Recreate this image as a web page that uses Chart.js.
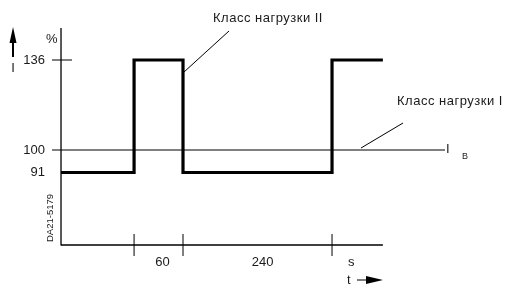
<!DOCTYPE html>
<html>
<head>
<meta charset="utf-8">
<script src="https://cdn.jsdelivr.net/npm/chart.js@4"></script>
<style>
  html, body { margin: 0; padding: 0; background: #fff; }
  #wrap { width: 509px; height: 286px; }
</style>
</head>
<body>
<div id="wrap"><canvas id="loadChart" width="509" height="286"></canvas></div>
<script>
// Load profile: time in schematic units (axis runs 0..100), current in % of I_B
const stepTimes = [0, 22.7, 37.9, 84.2, 100];
const stepLevels = [91, 136, 91, 136, 136];
const ratedLevel = 100;
const yTickLabels = ['136', '100', '91'];
const yTickValues = [136, 100, 91];
const intervalLabels = ['60', '240'];
const xMin = -2.8, xMax = 119.3;
const yMin = 62, yMax = 148.8;

const FONT = '"Liberation Sans", Arial, sans-serif';

// Axes, ticks, labels and leader lines drawn on top of the datasets
const schemePlugin = {
  id: 'scheme',
  afterDatasetsDraw(chart) {
    const { ctx, scales: { x, y } } = chart;
    const px = v => x.getPixelForValue(v);
    const py = v => y.getPixelForValue(v);
    const line = (x1, y1, x2, y2, w) => {
      ctx.lineWidth = w;
      ctx.beginPath(); ctx.moveTo(x1, y1); ctx.lineTo(x2, y2); ctx.stroke();
    };
    ctx.save();
    ctx.strokeStyle = '#000';
    ctx.fillStyle = '#1a1a1a';

    const x0 = px(0), yb = py(yMin);
    // axes
    line(x0, py(yMax), x0, yb + 0.5, 1.3);
    line(x0, yb, px(100), yb, 1.3);
    // 136 tick
    line(px(xMin), py(136), x0 + 11, py(136), 1);
    // x ticks at load changes
    stepTimes.slice(1, 4).forEach(t => line(px(t), yb - 11, px(t), yb + 11, 1));

    // y tick labels
    ctx.font = '13px ' + FONT;
    ctx.textAlign = 'right';
    ctx.textBaseline = 'middle';
    yTickLabels.forEach((l, i) => ctx.fillText(l, px(xMin) - 7, py(yTickValues[i])));
    ctx.textAlign = 'left';
    ctx.fillText('%', 46, 39);

    // interval labels
    ctx.textAlign = 'center';
    ctx.fillText(intervalLabels[0], (px(stepTimes[1]) + px(stepTimes[2])) / 2 + 4, 262);
    ctx.fillText(intervalLabels[1], (px(stepTimes[2]) + px(stepTimes[3])) / 2 + 5, 262);
    ctx.textAlign = 'left';
    ctx.fillText('s', px(stepTimes[3]) + 16, 262);
    ctx.fillText('t', 347, 280);

    // t arrow
    line(357, 280, 372, 280, 1);
    ctx.fillStyle = '#000';
    ctx.beginPath(); ctx.moveTo(383, 280); ctx.lineTo(366, 276); ctx.lineTo(366, 284); ctx.closePath(); ctx.fill();

    // I arrow on the y side
    line(13, 40, 13, 57, 2);
    ctx.beginPath(); ctx.moveTo(13, 27); ctx.lineTo(9.5, 43); ctx.lineTo(16.5, 43); ctx.closePath(); ctx.fill();
    ctx.fillStyle = '#1a1a1a';
    ctx.textAlign = 'center';
    ctx.fillText('I', 13, 68);

    // I_B label at the end of the rated line
    ctx.textAlign = 'left';
    ctx.fillText('I', 446, py(ratedLevel) - 1);
    ctx.font = '9px ' + FONT;
    ctx.fillText('B', 462, py(ratedLevel) + 7);

    // class labels with leaders
    ctx.font = '13px ' + FONT;
    ctx.letterSpacing = '0.5px';
    ctx.fillText('Класс нагрузки II', 213, 18);
    ctx.fillText('Класс нагрузки I', 397, 101);
    ctx.letterSpacing = '0px';
    line(229, 31, px(stepTimes[2]) + 1, 72, 1);
    line(403, 123, 361, py(ratedLevel) - 2, 1);

    // drawing code, rotated
    ctx.save();
    ctx.font = '9.5px ' + FONT;
    ctx.translate(50, 218);
    ctx.rotate(-Math.PI / 2);
    ctx.textAlign = 'center';
    ctx.fillText('DA21-5179', 0, 0);
    ctx.restore();

    ctx.restore();
  }
};

new Chart(document.getElementById('loadChart').getContext('2d'), {
  type: 'line',
  data: {
    datasets: [{
      label: 'Load',
      data: stepTimes.map((t, i) => ({ x: t, y: stepLevels[i] })),
      stepped: true,
      borderColor: '#000',
      borderWidth: 3.2,
      pointRadius: 0,
      borderCapStyle: 'butt',
      borderJoinStyle: 'miter',
      clip: false
    }, {
      label: 'I_B',
      data: [{ x: xMin, y: ratedLevel }, { x: xMax, y: ratedLevel }],
      borderColor: '#000',
      borderWidth: 1,
      pointRadius: 0,
      clip: false
    }]
  },
  options: {
    responsive: false,
    animation: false,
    layout: { padding: { left: 52, right: 64, top: 28, bottom: 41 } },
    plugins: { legend: { display: false }, tooltip: { enabled: false } },
    scales: {
      x: { type: 'linear', min: xMin, max: xMax, display: false },
      y: { type: 'linear', min: yMin, max: yMax, display: false }
    }
  },
  plugins: [schemePlugin]
});
</script>
</body>
</html>
